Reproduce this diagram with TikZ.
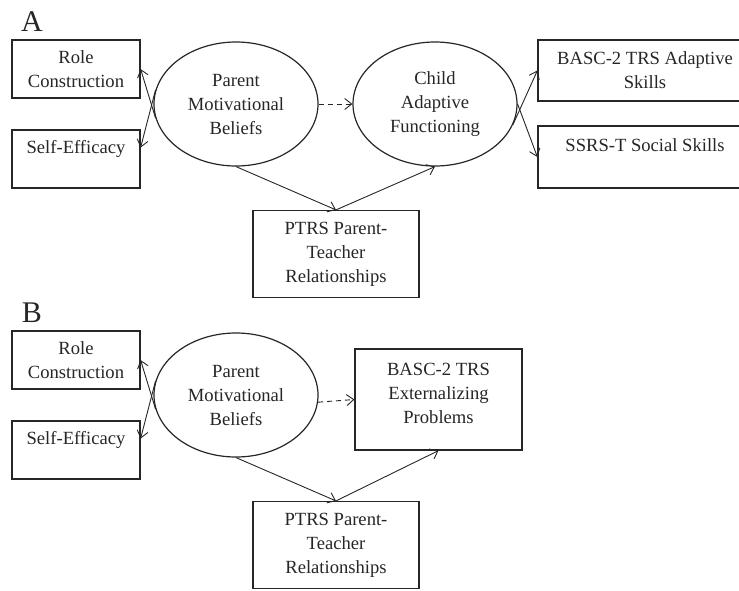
\documentclass[tikz,border=0pt]{standalone}
\usepackage{fontspec}
\setmainfont{Liberation Serif}
\usetikzlibrary{arrows.meta, shapes.geometric}
\begin{document}
\begin{tikzpicture}[x = 1pt, y = -1pt, black!85,
		every node/.style = {font = \fontsize{18.6}{24}\selectfont, align = center, inner sep = 0pt},
		box/.style = {draw, line width = 1.2pt, minimum width = 128pt, minimum height = 58pt},
		latent/.style = {draw, line width = 1.2pt, shape = ellipse, minimum width = 164pt, minimum height = 124pt},
		link/.style = {-{Straight Barb[length = 7pt, width = 11pt]}, line width = 0.9pt}]
		\useasboundingbox (0, 0) rectangle (739, 590);
		\foreach \p/\y in {A/0, B/291}{
			\node[font = \fontsize{30}{30}\selectfont] (lab\p) at (32, 22 + \y) {\p};
			\node[box] (role\p) at (76, 69 + \y) {Role\\Construction};
			\node[box] (self\p) at (76, 159 + \y) {Self-Efficacy\\\mbox{}};
			\node[latent] (pmb\p) at (236, 104 + \y) {Parent\\Motivational\\Beliefs};
			\node[box, minimum width = 166pt, minimum height = 87pt] (ptrs\p) at (336, 254 + \y) {PTRS Parent-\\Teacher\\Relationships};
			\draw[link] (pmb\p.190) -- (role\p.east);
			\draw[link] (pmb\p.170) -- (self\p.10);
			\draw[link] (pmb\p.south) -- (ptrs\p.north);}
		\node[latent] (cafA) at (435, 104) {Child\\Adaptive\\Functioning};
		\node[box, minimum width = 214pt, minimum height = 61pt] (adaptA) at (645, 70.5) {BASC-2 TRS Adaptive\\Skills};
		\node[box, minimum width = 214pt, minimum height = 62pt] (socA) at (645, 157) {SSRS-T Social Skills\\\mbox{}};
		\draw[link, dash pattern = on 5pt off 4pt] (pmbA.east) -- (cafA.west);
		\draw[link] (ptrsA.north) -- (cafA.south);
		\draw[link] (cafA.345) -- (adaptA.west);
		\draw[link] (cafA.0) -- (socA.west);
		\node[box, minimum width = 167pt, minimum height = 101pt] (extB) at (438.5, 399.5) {BASC-2 TRS\\Externalizing\\Problems\\[-12pt]\mbox{}};
		\draw[link, dash pattern = on 5pt off 4pt] (pmbB.355) -- (extB.west);
		\draw[link] (ptrsB.north) -- (extB.south);
\end{tikzpicture}
\end{document}
